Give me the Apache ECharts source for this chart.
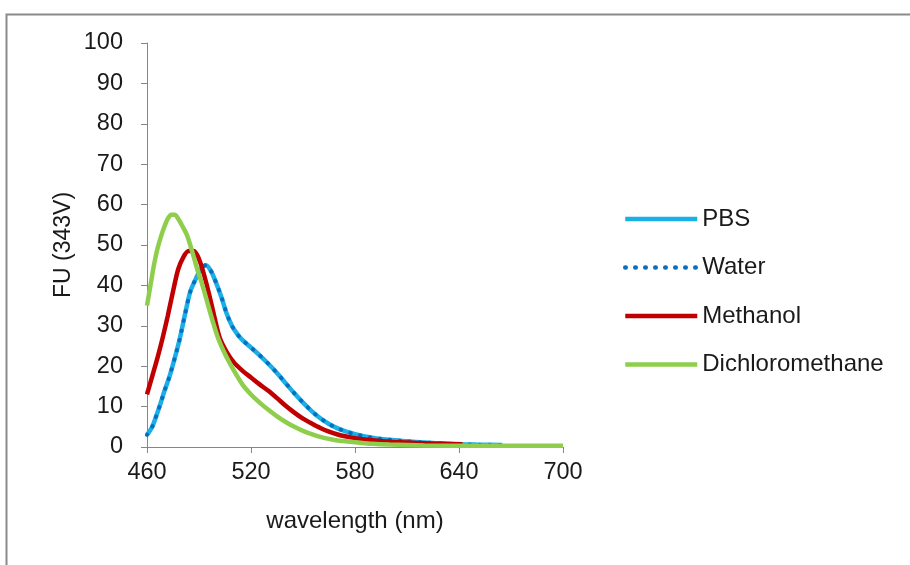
<!DOCTYPE html>
<html>
<head>
<meta charset="utf-8">
<script src="https://cdn.jsdelivr.net/npm/echarts@6/dist/echarts.min.js"></script>
<style>
html,body{margin:0;padding:0;background:#fff;}
#chart{width:910px;height:565px;}
</style>
</head>
<body>
<div id="chart"></div>
<script>
// ---- data ----
const xTickLabels = [460, 520, 580, 640, 700];

const pbsWavelength = [460,463,466,468,470,473,476,479,482,485,488,491,494,497,500,503,506,509,512,515,519,525,530,535,540,545,550,555,560,565,570,575,580,585,590,595,600,610,620,630,640,650,665];
const pbsValues     = [3,5,8.5,11,13.8,17.5,22,27,33,38.5,41.5,44,45,43.5,40.5,37,33,30,28,26.5,25,22.7,20.6,18.3,15.8,13.3,11,8.9,7.1,5.7,4.6,3.8,3.2,2.7,2.3,2,1.8,1.4,1.1,0.9,0.7,0.6,0.5];

const waterWavelength = [460,463,466,468,470,473,476,479,482,485,488,491,494,497,500,503,506,509,512,515,519,525,530,535,540,545,550,555,560,565,570,575,580,585,590,595,600,610,620,630,640,650,665];
const waterValues     = [3,5,8.5,11,13.8,17.5,22,27,33,38.5,41.5,44,45,43.5,40.5,37,33,30,28,26.5,25,22.7,20.6,18.3,15.8,13.3,11,8.9,7.1,5.7,4.6,3.8,3.2,2.7,2.3,2,1.8,1.4,1.1,0.9,0.7,0.6,0.5];

const methanolWavelength = [460,463,466,469,472,475,478,481,484,487,490,493,496,499,502,506,510,515,520,525,530,535,540,545,550,555,560,565,570,575,580,590,600,610,620,630,642];
const methanolValues     = [13,17.5,22,27,32.5,38.5,44,47,48.5,48.5,46.5,42.5,37.5,32,27,23.5,21,18.9,17.2,15.5,13.9,12.1,10.2,8.5,7,5.8,4.7,3.8,3.1,2.6,2.2,1.7,1.3,1.1,0.9,0.8,0.7];

const dcmWavelength = [460,462,464,466,468,470,472,474,476,478,480,483,486,489,492,495,498,501,505,510,515,520,525,530,535,540,545,550,555,560,565,570,580,590,600,620,650,700];
const dcmValues     = [35,40,45,49,52,54.5,56.5,57.5,57.5,56.5,55,52.5,48.5,44,40,35.5,31,27,23,19,15.5,13,11,9.2,7.6,6.2,5,4,3.2,2.5,2,1.6,1.2,0.8,0.6,0.4,0.3,0.3];

const seriesNames = ['PBS', 'Water', 'Methanol', 'Dichloromethane'];

function pairs(xs, ys) { return xs.map((x, i) => [x, ys[i]]); }

const chart = echarts.init(document.getElementById('chart'), null, {renderer: 'canvas'});
const FONT = 'Liberation Sans';
const axisGray = '#868686';

chart.setOption({
  animation: false,
  backgroundColor: '#ffffff',
  textStyle: {fontFamily: FONT},
  graphic: [{
    type: 'rect',
    left: 4, top: 12,
    shape: {width: 1000, height: 1000},
    style: {fill: 'none', stroke: '#8a8a8a', lineWidth: 2},
    silent: true
  }],
  grid: {left: 147, right: 347, top: 43, bottom: 118, containLabel: false},
  legend: {
    orient: 'vertical',
    left: 618, top: 202,
    padding: 5,
    itemWidth: 72, itemHeight: 14,
    itemGap: 24.5,
    data: seriesNames,
    itemStyle: {color: 'rgba(0,0,0,0)', borderColor: 'rgba(0,0,0,0)', borderWidth: 0},
    lineStyle: {width: 4.5},
    textStyle: {fontFamily: FONT, fontSize: 24, color: '#1a1a1a'}
  },
  xAxis: {
    type: 'value',
    min: 460, max: 700,
    name: 'wavelength (nm)',
    nameLocation: 'middle',
    nameGap: 62,
    nameTextStyle: {fontFamily: FONT, fontSize: 24, color: '#1a1a1a'},
    axisLine: {show: true, lineStyle: {color: axisGray, width: 1}},
    axisTick: {show: true, length: 6, lineStyle: {color: axisGray}, customValues: xTickLabels},
    axisLabel: {fontFamily: FONT, fontSize: 23.5, color: '#1a1a1a', margin: 14, customValues: xTickLabels},
    splitLine: {show: false}
  },
  yAxis: {
    type: 'value',
    min: 0, max: 100, interval: 10,
    name: 'FU (343V)',
    nameLocation: 'middle',
    nameGap: 72,
    nameRotate: 90,
    nameTextStyle: {fontFamily: FONT, fontSize: 23, color: '#1a1a1a'},
    axisLine: {show: true, lineStyle: {color: axisGray, width: 1}},
    axisTick: {show: true, length: 6, lineStyle: {color: axisGray}},
    axisLabel: {fontFamily: FONT, fontSize: 23.5, color: '#1a1a1a', margin: 24},
    splitLine: {show: false}
  },
  series: [
    {
      name: 'PBS', type: 'line', data: pairs(pbsWavelength, pbsValues),
      showSymbol: false, symbol: 'none', smooth: 0.3,
      lineStyle: {color: '#1AAFE6', width: 4.5},
      itemStyle: {color: '#1AAFE6'}
    },
    {
      name: 'Water', type: 'line', data: pairs(waterWavelength, waterValues),
      showSymbol: false, symbol: 'none', smooth: 0.3,
      lineStyle: {color: '#0A6EC0', width: 4, type: [0.5, 9.5], cap: 'round'},
      itemStyle: {color: '#0A6EC0'}
    },
    {
      name: 'Methanol', type: 'line', data: pairs(methanolWavelength, methanolValues),
      showSymbol: false, symbol: 'none', smooth: 0.3,
      lineStyle: {color: '#C00000', width: 4.5},
      itemStyle: {color: '#C00000'}
    },
    {
      name: 'Dichloromethane', type: 'line', data: pairs(dcmWavelength, dcmValues),
      showSymbol: false, symbol: 'none', smooth: 0.3,
      lineStyle: {color: '#8FCE4C', width: 4.5},
      itemStyle: {color: '#8FCE4C'}
    }
  ]
});
</script>
</body>
</html>
